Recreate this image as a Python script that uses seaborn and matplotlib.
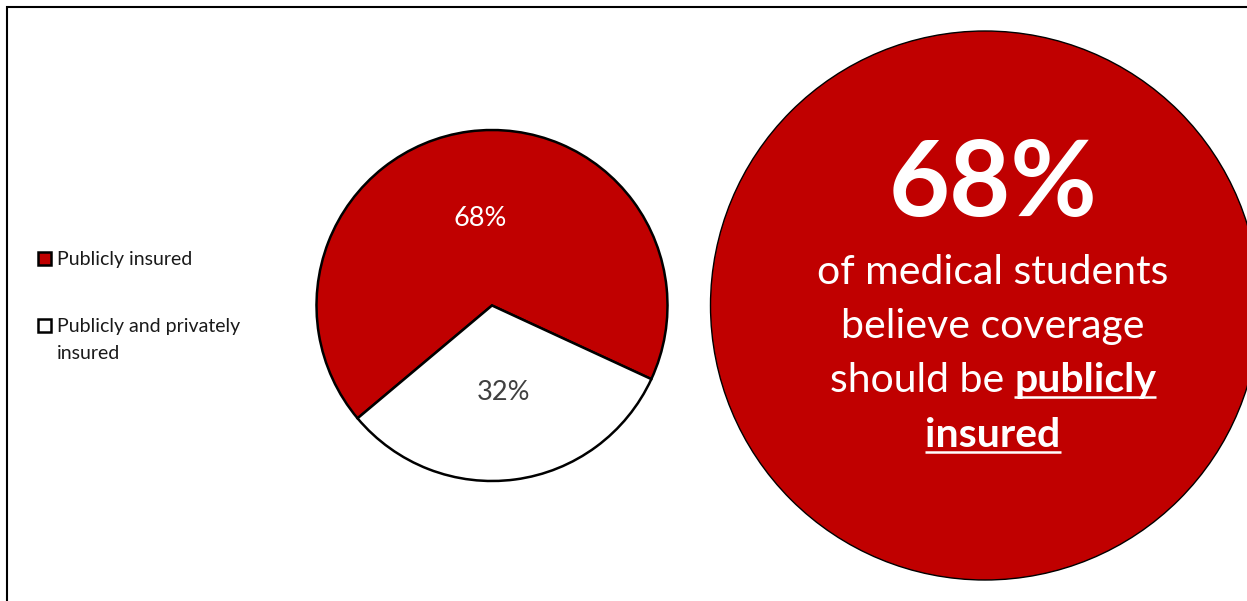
import textwrap

import matplotlib
matplotlib.use("Agg")
import matplotlib.pyplot as plt
from matplotlib.patches import Circle, Rectangle
import seaborn as sns

# Survey result: preferred type of health coverage
categories = ["Publicly insured", "Publicly and privately insured"]
shares = [68, 32]
slice_colors = ["#C00000", "#FFFFFF"]
pct_label_colors = ["#FFFFFF", "#404040"]

# Call-out text
headline_lines = ["of medical students", "believe coverage"]
headline_lead = "should be "
headline_bold = ["publicly", "insured"]

sns.set_theme(style="white")
FONT = ["Lato", "DejaVu Sans"]
plt.rcParams["font.family"] = FONT

W, H = 1247, 601
fig = plt.figure(figsize=(W / 100, H / 100), dpi=100)
ax = fig.add_axes([0, 0, 1, 1])


def py(y):
    """Convert a top-down pixel row to the y-up axis coordinate."""
    return H - y


# --- pie ---------------------------------------------------------------
wedges, _, autotexts = ax.pie(
    shares,
    colors=slice_colors,
    startangle=-24.8,
    counterclock=True,
    center=(492, py(305.5)),
    radius=175.5,
    autopct="%.0f%%",
    pctdistance=0.5,
    wedgeprops=dict(edgecolor="black", linewidth=1.8),
    textprops=dict(fontsize=19.5, family=FONT),
)
for t, c in zip(autotexts, pct_label_colors):
    t.set_color(c)

ax.set_xlim(0, W)
ax.set_ylim(0, H)
ax.set_aspect("equal")
ax.axis("off")

# --- legend ------------------------------------------------------------
square_rows = [258.2, 325.3]
text_rows = [264.5, 331.7]
line_step = 27.5
for cat, col, sy, ty in zip(categories, slice_colors, square_rows, text_rows):
    ax.add_patch(Rectangle((44.5 - 6.5, py(sy) - 6.5), 13, 13,
                           facecolor=col, edgecolor="black", linewidth=1.8))
    for k, part in enumerate(textwrap.wrap(cat, 22)):
        ax.text(57, py(ty + k * line_step), part, ha="left", va="baseline",
                fontsize=14, color="#1a1a1a")

# --- call-out circle -----------------------------------------------------
ax.add_patch(Circle((985, py(305.5)), 274.5, facecolor=slice_colors[0],
                    edgecolor="black", linewidth=1.0))
cx = 993
body = dict(color="white", fontsize=29.5, va="baseline")
ax.text(cx, py(216), f"{shares[0]}%", ha="center", va="baseline",
        fontsize=76, fontweight="bold", color="white")
for line, base in zip(headline_lines, [284, 338]):
    ax.text(cx, py(base), line, ha="center", **body)

fig.canvas.draw()
renderer = fig.canvas.get_renderer()


def width_of(t):
    return t.get_window_extent(renderer).width


lead = ax.text(0, py(392), headline_lead.strip(), ha="left", **body)
strong = ax.text(0, py(392), headline_bold[0], ha="left", fontweight="bold",
                 **body)
probe_a = ax.text(0, 0, "a a", fontsize=body["fontsize"])
probe_b = ax.text(0, 0, "aa", fontsize=body["fontsize"])
space = width_of(probe_a) - width_of(probe_b)
probe_a.remove()
probe_b.remove()

w_lead, w_strong = width_of(lead), width_of(strong)
x0 = cx - (w_lead + space + w_strong) / 2
lead.set_x(x0)
strong.set_x(x0 + w_lead + space)
ax.plot([x0 + w_lead + space, x0 + w_lead + space + w_strong],
        [py(396.5), py(396.5)], color="white", linewidth=1.8,
        solid_capstyle="butt")

last = ax.text(cx, py(447), headline_bold[1], ha="center", fontweight="bold",
               **body)
w_last = width_of(last)
ax.plot([cx - w_last / 2, cx + w_last / 2], [py(451.5), py(451.5)],
        color="white", linewidth=1.8, solid_capstyle="butt")

# --- outer frame ---------------------------------------------------------
ax.add_patch(Rectangle((7, -20), W + 100, H - 6.5 + 20, fill=False,
                       edgecolor="black", linewidth=1.5, clip_on=False))

fig.savefig("out.png", dpi=100)
